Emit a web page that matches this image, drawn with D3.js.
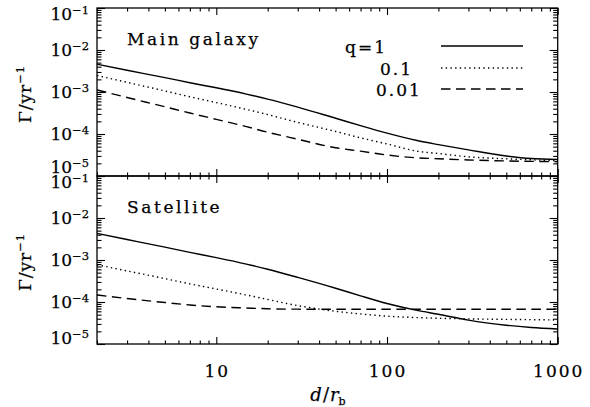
<!DOCTYPE html>
<html>
<head>
<meta charset="utf-8">
<script src="https://cdn.jsdelivr.net/npm/d3@7"></script>
<style>
  html, body { margin: 0; padding: 0; background: #fff; }
  svg { display: block; }
  svg text { font-family: 'DejaVu Serif', serif; fill: #000; stroke: #000; stroke-width: 0.25px; }
</style>
</head>
<body>
<script>
// distance d / r_b
const distances = [2, 3, 5, 7, 10, 15, 20, 30, 50, 70, 100, 150, 200, 300, 500, 700, 1000]

// main galaxy, rate in 1/yr
const mainQ1 = [4.6e-3, 3.3e-3, 2.2e-3, 1.66e-3, 1.26e-3, 8.92e-4, 6.78e-4, 4.37e-4, 2.37e-4, 1.58e-4, 1.05e-4, 7.0e-5, 5.6e-5, 4.2e-5, 3.0e-5, 2.6e-5, 2.47e-5]
const mainQ01 = [2.47e-3, 1.7e-3, 1.06e-3, 7.7e-4, 5.6e-4, 3.85e-4, 2.9e-4, 1.89e-4, 1.15e-4, 8.1e-5, 5.8e-5, 3.9e-5, 3.43e-5, 2.86e-5, 2.57e-5, 2.43e-5, 2.31e-5]
const mainQ001 = [1.12e-3, 7.4e-4, 4.45e-4, 3.16e-4, 2.23e-4, 1.5e-4, 1.1e-4, 7.5e-5, 4.7e-5, 3.9e-5, 3.16e-5, 2.71e-5, 2.57e-5, 2.41e-5, 2.28e-5, 2.23e-5, 2.19e-5]

// satellite
const satQ1 = [4.3e-3, 3.08e-3, 2.02e-3, 1.52e-3, 1.14e-3, 8.0e-4, 6.03e-4, 3.86e-4, 2.13e-4, 1.4e-4, 9.2e-5, 6.3e-5, 5.1e-5, 3.7e-5, 2.8e-5, 2.48e-5, 2.28e-5]
const satQ01 = [7.7e-4, 5.5e-4, 3.6e-4, 2.7e-4, 2.04e-4, 1.47e-4, 1.15e-4, 8.2e-5, 6.0e-5, 5.2e-5, 4.6e-5, 4.25e-5, 4.1e-5, 3.96e-5, 3.86e-5, 3.8e-5, 3.73e-5]
const satQ001 = [1.47e-4, 1.21e-4, 9.7e-5, 8.5e-5, 7.7e-5, 7.2e-5, 6.9e-5, 6.75e-5, 6.7e-5, 6.7e-5, 6.7e-5, 6.7e-5, 6.7e-5, 6.7e-5, 6.7e-5, 6.7e-5, 6.7e-5]

const legendLabels = ['q=1', '0.1', '0.01']
const xTickLabels = ['10', '100', '1000']
const yExponents = ['−5', '−4', '−3', '−2', '−1']

const SIZE = { WIDTH: 590, HEIGHT: 407 }
const PLOT = { LEFT: 97, RIGHT: 557.7 }
const DASHES = ['none', '1.4,3.3', '9.5,5.5']

const svg = d3.select('body').append('svg')
  .attr('width', SIZE.WIDTH)
  .attr('height', SIZE.HEIGHT)

const x = d3.scaleLog().domain([2, 1000]).range([PLOT.LEFT, PLOT.RIGHT])
const isMajor = v => Math.abs(Math.log10(v) - Math.round(Math.log10(v))) < 1e-6

const drawTicks = (g, axis, values, size, transform) => {
  g.append('g')
    .attr('transform', transform)
    .call(axis.tickValues(values).tickSize(-size).tickSizeOuter(0).tickFormat(''))
    .call(s => s.select('.domain').remove())
    .call(s => s.selectAll('line').attr('stroke', '#000').attr('stroke-width', 1.1))
}

const buildPanel = ({ top, bottom, title, series, showXLabels, nudge }) => {
  const y = d3.scaleLog().domain([1e-5, 1e-1]).range([bottom, top])
  const g = svg.append('g')

  const xMinor = x.ticks().filter(v => !isMajor(v))
  const xMajor = x.ticks().filter(isMajor)
  const yMinor = y.ticks().filter(v => !isMajor(v))
  const yMajor = y.ticks().filter(isMajor)

  drawTicks(g, d3.axisBottom(x), xMinor, 3.5, `translate(0,${bottom})`)
  drawTicks(g, d3.axisBottom(x), xMajor, 7, `translate(0,${bottom})`)
  drawTicks(g, d3.axisTop(x), xMinor, 3.5, `translate(0,${top})`)
  drawTicks(g, d3.axisTop(x), xMajor, 7, `translate(0,${top})`)
  drawTicks(g, d3.axisLeft(y), yMinor, 4.5, `translate(${PLOT.LEFT},0)`)
  drawTicks(g, d3.axisLeft(y), yMajor, 8, `translate(${PLOT.LEFT},0)`)
  drawTicks(g, d3.axisRight(y), yMinor, 4.5, `translate(${PLOT.RIGHT},0)`)
  drawTicks(g, d3.axisRight(y), yMajor, 8, `translate(${PLOT.RIGHT},0)`)

  g.append('rect')
    .attr('x', PLOT.LEFT)
    .attr('y', top)
    .attr('width', PLOT.RIGHT - PLOT.LEFT)
    .attr('height', bottom - top)
    .attr('fill', 'none')
    .attr('stroke', '#000')
    .attr('stroke-width', 1.3)

  // y tick labels, end ones nudged inward like the original
  const labels = g.append('g')
    .attr('font-size', 17)
    .attr('text-anchor', 'end')
    .selectAll('text')
    .data(yMajor)
    .enter()
    .append('text')
    .attr('x', 89)
    .attr('y', (d, i) => y(d) + 6 + nudge[i])
  labels.append('tspan').text('10')
  labels.append('tspan')
    .attr('font-size', 11.5)
    .attr('dy', -6.5)
    .text((d, i) => yExponents[i])

  const yTitle = g.append('text')
    .attr('transform', `translate(31,${(top + bottom) / 2 + 2}) rotate(-90)`)
    .attr('text-anchor', 'middle')
    .attr('font-size', 17)
    .attr('letter-spacing', 1)
  yTitle.append('tspan').text('Γ/yr')
  yTitle.append('tspan').attr('font-size', 11.5).attr('dy', -7).text('−1')

  g.append('text')
    .attr('x', 127)
    .attr('y', top + 37)
    .attr('font-size', 17)
    .attr('letter-spacing', 2.6)
    .text(title)

  const line = d3.line()
    .x(d => x(d[0]))
    .y(d => y(d[1]))
    .curve(d3.curveMonotoneX)

  g.append('g')
    .selectAll('path')
    .data(series)
    .enter()
    .append('path')
    .attr('d', d => line(d3.zip(distances, d)))
    .attr('fill', 'none')
    .attr('stroke', '#000')
    .attr('stroke-width', 1.4)
    .attr('stroke-dasharray', (d, i) => DASHES[i])

  if (showXLabels) {
    g.append('g')
      .attr('font-size', 17)
      .attr('text-anchor', 'middle')
      .attr('letter-spacing', 2)
      .selectAll('text')
      .data(xMajor)
      .enter()
      .append('text')
      .attr('x', d => x(d) + 1)
      .attr('y', bottom + 33)
      .text((d, i) => xTickLabels[i])

    const xTitle = g.append('text')
      .attr('x', 328)
      .attr('y', bottom + 57)
      .attr('text-anchor', 'middle')
      .attr('font-size', 18)
    xTitle.append('tspan').attr('font-style', 'italic').text('d')
    xTitle.append('tspan').attr('dx', 1).text('/')
    xTitle.append('tspan').attr('font-style', 'italic').attr('dx', 1).text('r')
    xTitle.append('tspan').attr('font-size', 11).attr('dy', 4).text('b')
  }
  return g
}

buildPanel({ top: 8, bottom: 176, title: 'Main galaxy', series: [mainQ1, mainQ01, mainQ001], showXLabels: false, nudge: [-9, 0, 0, 0, 6] })
buildPanel({ top: 176, bottom: 344, title: 'Satellite', series: [satQ1, satQ01, satQ001], showXLabels: true, nudge: [-6, 0, 0, 0, 6] })

// legend
const legendX = [345, 380, 376]
const legendY = [46, 68, 89]
const legend = svg.append('g')
legend.selectAll('line')
  .data(legendLabels)
  .enter()
  .append('line')
  .attr('x1', 441)
  .attr('x2', 523)
  .attr('y1', (d, i) => legendY[i])
  .attr('y2', (d, i) => legendY[i])
  .attr('stroke', '#000')
  .attr('stroke-width', 1.4)
  .attr('stroke-dasharray', (d, i) => DASHES[i])
legend.selectAll('text')
  .data(legendLabels)
  .enter()
  .append('text')
  .attr('x', (d, i) => legendX[i])
  .attr('y', (d, i) => legendY[i] + 7)
  .attr('font-size', 17)
  .attr('letter-spacing', 2)
  .text(d => d)
</script>
</body>
</html>
